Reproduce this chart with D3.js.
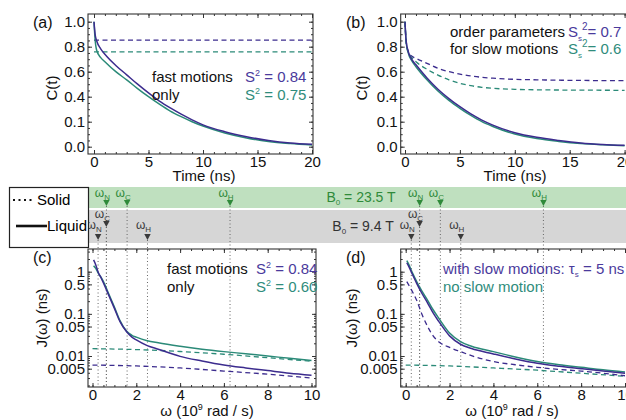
<!DOCTYPE html>
<html><head><meta charset="utf-8">
<script src="https://cdn.jsdelivr.net/npm/d3@7"></script>
<style>body{margin:0;background:#fff} svg text{font-family:"Liberation Sans",Arial,sans-serif}</style>
</head><body><svg id="chart" width="626" height="420"></svg>
<script>
// ---------------- data ----------------
const timeA = [0,0.1,0.25,0.6,1,2,3,4,5,6,7,8,9,10,12,14,16,18,20];
const cA_blue  = [1.0,0.90,0.845,0.785,0.74,0.65,0.575,0.50,0.43,0.365,0.31,0.26,0.215,0.175,0.12,0.08,0.05,0.03,0.02];
const cA_green = [1.0,0.86,0.77,0.715,0.68,0.60,0.535,0.465,0.40,0.34,0.285,0.24,0.20,0.165,0.11,0.07,0.042,0.025,0.013];
const timeDashA = [0,20];
const cA_blueDash  = [0.853,0.853];
const cA_greenDash = [0.758,0.758];

const timeB = [0,0.1,0.3,0.6,1,2,3,4,5,6,7,8,10,12,14,16,18,20];
const cB_blue  = [1.0,0.85,0.76,0.70,0.655,0.55,0.46,0.385,0.32,0.262,0.213,0.173,0.112,0.075,0.05,0.03,0.018,0.011];
const cB_green = [1.0,0.84,0.75,0.69,0.64,0.535,0.445,0.37,0.307,0.25,0.20,0.162,0.101,0.065,0.042,0.025,0.015,0.008];
const timeDashB = [0,0.1,0.3,0.6,1,2,3,4,5,6,7,8,10,12,15,20];
const cB_blueDash  = [1.0,0.85,0.76,0.725,0.707,0.667,0.627,0.60,0.581,0.566,0.555,0.548,0.539,0.535,0.531,0.528];
const cB_greenDash = [1.0,0.84,0.75,0.715,0.68,0.619,0.573,0.535,0.507,0.488,0.475,0.467,0.459,0.455,0.453,0.451];

const omegaC = [0.05,0.15,0.25,0.4,0.5,0.75,1,1.25,1.55,1.8,2,2.5,3,4,5,6,7,8,9,10];
const jC_blue  = [1.9,1.45,1.0,0.7,0.54,0.27,0.135,0.066,0.038,0.028,0.024,0.0176,0.0145,0.0098,0.0076,0.0061,0.0052,0.0045,0.0039,0.0035];
const jC_green = [1.39,1.2,0.95,0.72,0.58,0.29,0.145,0.070,0.039,0.031,0.028,0.023,0.0205,0.017,0.0145,0.0127,0.0113,0.0100,0.0088,0.0078];
const omegaDash = [0,2,4,6,8,10];
const jC_blueDash  = [0.0061,0.0058,0.0052,0.0044,0.0037,0.0030];
const jC_greenDash = [0.0149,0.0142,0.0128,0.0110,0.0091,0.0075];

const omegaD = [0.05,0.15,0.25,0.4,0.5,0.75,1,1.25,1.5,2,2.5,3,4,5,6,7,8,9,10];
const jD_blue  = [1.63,1.3,1.0,0.68,0.53,0.30,0.18,0.105,0.067,0.030,0.019,0.015,0.0112,0.0085,0.0067,0.0057,0.0050,0.0044,0.0039];
const jD_green = [1.82,1.45,1.1,0.75,0.58,0.34,0.21,0.125,0.08,0.035,0.022,0.017,0.0127,0.0095,0.0074,0.0062,0.0054,0.0047,0.0042];
const omegaDashD = [0.05,0.25,0.5,0.75,1,1.25,1.55,2,2.5,3,4,5,6,7,8,9,10];
const jD_blueDash  = [0.58,0.38,0.21,0.095,0.05,0.03,0.021,0.016,0.0127,0.0102,0.0074,0.0062,0.0054,0.0048,0.0044,0.0039,0.0034];
const jD_greenDash = [0.0061,0.0058,0.0052,0.0046,0.0039,0.0033];

const cTicks = [0,0.2,0.4,0.6,0.8,1.0];
const cTickLabels = ["0.0","0.1","0.4","0.6","0.8","1.0"];
const timeTicks = [0,5,10,15,20];
const jTicks = [0.005,0.01,0.05,0.1,0.5,1];
const jTickLabels = ["0.005","0.01","0.05","0.1","0.5","1"];
const omegaTicks = [0,2,4,6,8,10];
const larmor235 = [{nuc:"N",w:0.637},{nuc:"C",w:1.58},{nuc:"H",w:6.28}];
const larmor94  = [{nuc:"N",w:0.255},{nuc:"C",w:0.632},{nuc:"H",w:2.51}];

// ---------------- style ----------------
const BLUE = "#3c2c8e", GREEN = "#2b8a78";
const BLUE_T = "#4a3a9c", GREEN_T = "#2f8c7c";
const FS = 15;
const svg = d3.select("#chart");
const zip = (a,b) => a.map((v,i)=>[v,b[i]]);

function panel(o){
  const g = svg.append("g");
  const id = "clip"+o.name;
  svg.append("clipPath").attr("id",id).append("rect")
    .attr("x",o.left).attr("y",o.top).attr("width",o.right-o.left).attr("height",o.bottom-o.top);
  const x=o.x, y=o.y;
  const ax = (gen, tr, vals, size, fmt, pad) => {
    const a = g.append("g").attr("transform",tr)
      .call(gen.tickValues(vals).tickSize(size).tickPadding(pad||4).tickFormat(fmt||""));
    a.select(".domain").remove();
    a.selectAll("line").attr("stroke","#333");
    a.attr("font-family",null).attr("font-size",FS);
    a.selectAll("text").attr("fill","#111");
    return a;
  };
  ax(d3.axisBottom(x), `translate(0,${o.bottom})`, o.xMajor, -4, o.xFmt, 2);
  ax(d3.axisBottom(x), `translate(0,${o.bottom})`, o.xMinor, -2);
  ax(d3.axisTop(x), `translate(0,${o.top})`, o.xMajor, -4);
  ax(d3.axisTop(x), `translate(0,${o.top})`, o.xMinor, -2);
  ax(d3.axisLeft(y), `translate(${o.left},0)`, o.yMajor, -4, o.yFmt, 3);
  ax(d3.axisLeft(y), `translate(${o.left},0)`, o.yMinor, -2);
  ax(d3.axisRight(y), `translate(${o.right},0)`, o.yMajor, -4);
  ax(d3.axisRight(y), `translate(${o.right},0)`, o.yMinor, -2);
  g.append("rect").attr("x",o.left).attr("y",o.top).attr("width",o.right-o.left).attr("height",o.bottom-o.top)
    .attr("fill","none").attr("stroke","#333").attr("stroke-width",1.1);
  const plot = g.append("g").attr("clip-path",`url(#${id})`);
  const line = d3.line().x(d=>x(d[0])).y(d=>y(d[1])).curve(d3.curveMonotoneX);
  o.series.forEach(s=>{
    plot.append("path").attr("d",line(zip(s.x,s.y))).attr("fill","none")
      .attr("stroke",s.color).attr("stroke-width",s.dash?1.3:1.5)
      .attr("stroke-dasharray",s.dash?"5,3.5":null);
  });
  return {g, plot};
}

const minorRange = (a,b,s)=>d3.range(a,b+1e-9,s).map(v=>+v.toFixed(3));
const logMinor = [];
[0.001,0.01,0.1,1].forEach(d=>{for(let k=1;k<10;k++) logMinor.push(+(k*d).toPrecision(3));});

// ---- (a)
const xA = d3.scaleLinear().domain([0,20]).range([94,312]);
const yCt = d3.scaleLinear().domain([0,1]).range([146.7,21.7]);
const cFmt = (d)=>cTickLabels[cTicks.indexOf(d)];
panel({name:"a", left:88,right:313,top:14,bottom:154,x:xA,y:yCt,
  xMajor:timeTicks,xMinor:minorRange(0,20,1),yMajor:cTicks,yMinor:minorRange(0,1,0.05),yFmt:cFmt,xFmt:d3.format("d"),
  series:[
    {x:timeDashA,y:cA_blueDash,color:BLUE,dash:true},
    {x:timeDashA,y:cA_greenDash,color:GREEN,dash:true},
    {x:timeA,y:cA_green,color:GREEN},
    {x:timeA,y:cA_blue,color:BLUE}]});

// ---- (b)
const xB = d3.scaleLinear().domain([0,20]).range([405,624.6]);
panel({name:"b", left:400.7,right:630,top:14,bottom:154,x:xB,y:yCt,
  xMajor:timeTicks,xMinor:minorRange(0,20,1),yMajor:cTicks,yMinor:minorRange(0,1,0.05),yFmt:cFmt,xFmt:d3.format("d"),
  series:[
    {x:timeDashB,y:cB_blueDash,color:BLUE,dash:true},
    {x:timeDashB,y:cB_greenDash,color:GREEN,dash:true},
    {x:timeB,y:cB_green,color:GREEN},
    {x:timeB,y:cB_blue,color:BLUE}]});

// ---- bands
const bandTop=187, bandMid1=208, bandMid2=210, bandBot=243;
svg.append("rect").attr("x",89).attr("y",bandTop).attr("width",540).attr("height",bandMid1-bandTop).attr("fill","#bfe0bf");
svg.append("rect").attr("x",89).attr("y",bandMid2).attr("width",540).attr("height",bandBot-bandMid2).attr("fill","#d6d6d6");

// ---- (c), (d)
const xC = d3.scaleLinear().domain([0,10]).range([92.5,311.5]);
const xD = d3.scaleLinear().domain([0,10]).range([405.7,625]);
const yJ = d3.scaleLog().domain([0.01,1]).range([356,271.7]);
const jFmt = d=>jTickLabels[jTicks.indexOf(d)];
const pTop=249, pBot=387;

[[xC],[xD]].forEach(([xs])=>{
  larmor235.forEach(m=>svg.append("line").attr("x1",xs(m.w)).attr("x2",xs(m.w)).attr("y1",206).attr("y2",pBot)
    .attr("stroke","#666").attr("stroke-width",1).attr("stroke-dasharray","1,2.5"));
  larmor94.forEach(m=>svg.append("line").attr("x1",xs(m.w)).attr("x2",xs(m.w)).attr("y1",m.nuc==="C"?227:240).attr("y2",pBot)
    .attr("stroke","#666").attr("stroke-width",1).attr("stroke-dasharray","1,2.5"));
  const mark = (m, ty, lblY, col)=>{
    const cx = xs(m.w);
    svg.append("path").attr("d",`M${cx-3.2},${ty}L${cx+3.2},${ty}L${cx},${ty+6}Z`).attr("fill",col);
    const t = svg.append("text").attr("x",cx-4).attr("y",lblY).attr("fill",col).attr("font-size",12).attr("text-anchor","middle");
    t.append("tspan").text("ω");
    t.append("tspan").text(m.nuc).attr("font-size",8).attr("dy",3);
  };
  larmor235.forEach(m=>mark(m,200,197,"#2f8a3a"));
  larmor94.forEach(m=>mark(m, m.nuc==="C"?221:234, m.nuc==="C"?218:229, "#3a3a3a"));
});

panel({name:"c", left:88,right:316,top:pTop,bottom:pBot,x:xC,y:yJ,
  xMajor:omegaTicks,xMinor:minorRange(0,10,0.5),yMajor:jTicks,yMinor:logMinor.filter(v=>v>=0.002&&v<=3),yFmt:jFmt,xFmt:d3.format("d"),
  series:[
    {x:omegaDash,y:jC_greenDash,color:GREEN,dash:true},
    {x:omegaDash,y:jC_blueDash,color:BLUE,dash:true},
    {x:omegaC,y:jC_green,color:GREEN},
    {x:omegaC,y:jC_blue,color:BLUE}]});

panel({name:"d", left:400.7,right:630,top:pTop,bottom:pBot,x:xD,y:yJ,
  xMajor:omegaTicks,xMinor:minorRange(0,10,0.5),yMajor:jTicks,yMinor:logMinor.filter(v=>v>=0.002&&v<=3),yFmt:jFmt,xFmt:d3.format("d"),
  series:[
    {x:omegaDash,y:jD_greenDash,color:GREEN,dash:true},
    {x:omegaDashD,y:jD_blueDash,color:BLUE,dash:true},
    {x:omegaD,y:jD_green,color:GREEN},
    {x:omegaD,y:jD_blue,color:BLUE}]});

// ---- band texts
function b0(x,y,val,col){
  const t=svg.append("text").attr("x",x).attr("y",y).attr("text-anchor","middle").attr("font-size",14).attr("fill",col);
  t.append("tspan").text("B");
  t.append("tspan").text("0").attr("font-size",8).attr("dy",3);
  t.append("tspan").text(` = ${val} T`).attr("dy",-3);
}
b0(361,202,"23.5","#2f8a3a");
b0(363,231,"9.4","#333");

// ---- legend box
svg.append("rect").attr("x",9.5).attr("y",187.5).attr("width",79).attr("height",60).attr("fill","#fff").attr("stroke","#222").attr("stroke-width",1.2);
svg.append("line").attr("x1",13).attr("x2",35).attr("y1",200).attr("y2",200).attr("stroke","#111").attr("stroke-width",2).attr("stroke-dasharray","2,3.5");
svg.append("text").attr("x",37).attr("y",205).attr("font-size",15).text("Solid");
svg.append("line").attr("x1",16).attr("x2",47).attr("y1",226).attr("y2",226).attr("stroke","#111").attr("stroke-width",2.6);
svg.append("text").attr("x",47).attr("y",231).attr("font-size",15).text("Liquid");

// ---- texts
const txt=(x,y,s,opt={})=>{const t=svg.append("text").attr("x",x).attr("y",y).attr("font-size",opt.fs||FS)
  .attr("fill",opt.fill||"#111").attr("text-anchor",opt.anchor||"start"); if(opt.rot) t.attr("transform",`rotate(-90,${x},${y})`); if(s) t.text(s); return t;};
txt(33,28,"(a)",{fs:16}); txt(346,28,"(b)",{fs:16}); txt(33,263,"(c)",{fs:16}); txt(346,263,"(d)",{fs:16});
txt(57,88,"C(t)",{rot:true,anchor:"middle"}); txt(367,88,"C(t)",{rot:true,anchor:"middle"});
txt(204,181,"Time (ns)",{anchor:"middle"}); txt(515,181,"Time (ns)",{anchor:"middle"});
[[47,318],[357,318]].forEach(([x,y])=>{const t=txt(x,y,null,{rot:true,anchor:"middle"});
  t.append("tspan").text("J(ω)  (ns)");});
[[207,416],[512,416]].forEach(([x,y])=>{const t=txt(x,y,null,{anchor:"middle"});
  t.append("tspan").text("ω (10"); t.append("tspan").text("9").attr("font-size",9).attr("dy",-6); t.append("tspan").text(" rad / s)").attr("dy",6);});

txt(152,82,"fast motions"); txt(152,100,"only");
const s2=(x,y,val,col)=>{const t=txt(x,y,null,{fill:col}); t.append("tspan").text("S"); t.append("tspan").text("2").attr("font-size",9).attr("dy",-6); t.append("tspan").text(` = ${val}`).attr("dy",6);};
s2(245,82,"0.84",BLUE_T); s2(245,100,"0.75",GREEN_T);

txt(450,37,"order parameters"); txt(450,54,"for slow motions");
const ss2=(x,y,val,col)=>{const t=txt(x,y,null,{fill:col}); t.append("tspan").text("S");
  t.append("tspan").text("s").attr("font-size",8).attr("dy",4);
  t.append("tspan").text("2").attr("font-size",10).attr("dy",-11);
  t.append("tspan").text(`= ${val}`).attr("dy",7);};
ss2(568,37,"0.7",BLUE_T); ss2(568,54,"0.6",GREEN_T);

txt(167,274,"fast motions"); txt(167,292,"only");
s2(256,274,"0.84",BLUE_T); s2(256,292,"0.60",GREEN_T);

{const t=txt(443,274,null,{fill:BLUE_T}); t.append("tspan").text("with slow motions: τ"); t.append("tspan").text("s").attr("font-size",8).attr("dy",3); t.append("tspan").text(" = 5 ns").attr("dy",-3);}
txt(443,292,"no slow motion",{fill:GREEN_T});
</script></body></html>
